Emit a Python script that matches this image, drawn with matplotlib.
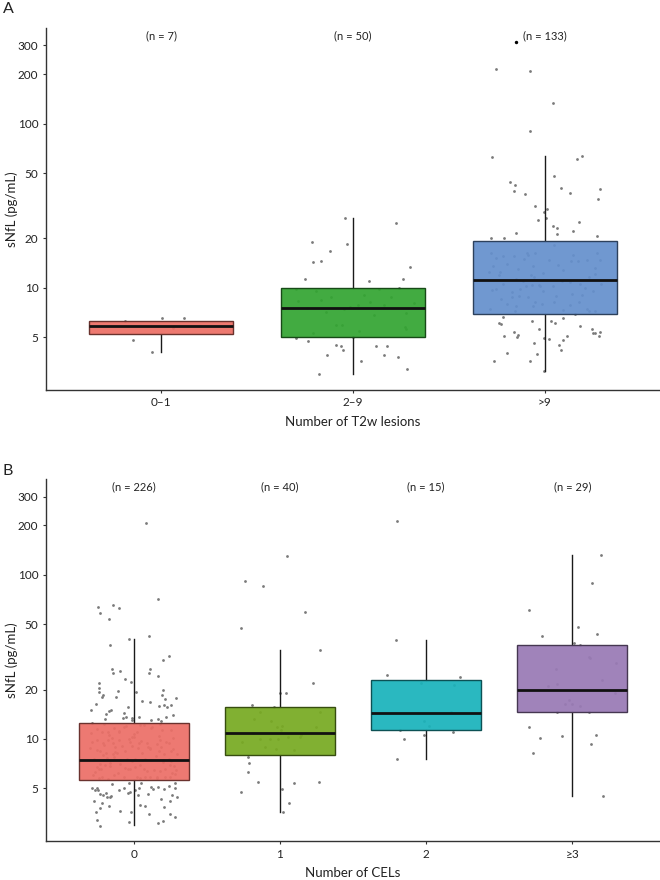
import matplotlib
matplotlib.use("Agg")
import matplotlib.pyplot as plt
import matplotlib.colors as mcolors

plt.rcParams['font.family'] = ['Lato', 'DejaVu Sans']

# ---------------- Panel A data ----------------
A_cats = ["0\u20131", "2\u20139", ">9"]
A_n = [7, 50, 133]
A_q1 = [5.22, 5.05, 6.97]
A_med = [5.89, 7.55, 11.1]
A_q3 = [6.32, 9.95, 19.3]
A_whislo = [4.09, 2.99, 3.13]
A_whishi = [6.32, 26.6, 63.5]
A_fill = ["#EC6F65", "#33A532", "#6590CD"]

# (value, jitter offset)
A_pts_g0 = [(4.80, -0.146), (4.09, -0.047), (6.32, -0.19), (6.53, 0.007), (5.68, 0.06),
            (6.59, 0.118), (5.89, 0.2)]
A_pts_g1 = [(26.8, -0.043), (24.7, 0.226), (19.0, -0.215), (18.5, -0.031), (16.8, -0.118),
            (14.4, -0.208), (14.6, -0.168), (13.3, 0.297), (11.3, -0.248), (11.0, 0.085),
            (11.3, 0.26), (9.8, -0.297), (9.9, 0.134), (10.0, 0.238),
            (9.5, -0.193), (8.33, -0.288), (8.77, -0.115), (9.06, 0.059), (8.25, 0.087),
            (7.55, -0.24), (7.41, -0.045), (7.6, -0.016), (7.88, 0.028), (7.88, 0.163),
            (7.17, -0.14), (6.81, 0.111), (7.07, 0.276), (5.95, -0.089), (5.95, -0.059),
            (5.81, 0.273), (5.6, 0.276), (5.3, -0.21), (5.42, 0.033), (8.45, -0.167),
            (8.85, 0.198), (5.05, 0.0), (8.06, 0.319),
            (4.95, -0.297), (4.77, -0.233), (4.49, -0.087), (4.39, -0.0625), (4.17, -0.052),
            (4.41, 0.118), (4.39, 0.179), (3.88, -0.134), (3.9, 0.163), (3.8, 0.233),
            (3.59, 0.042), (3.19, 0.281), (3.0, -0.179)]
A_pts_g2 = [(214, -0.253), (209, -0.078), (134, 0.042), (90, -0.08), (62.7, -0.274),
            (60.9, 0.17), (63.8, 0.193), (48.2, 0.045), (43.9, -0.184), (42.3, -0.155),
            (38.9, -0.16), (37.4, -0.102), (40.3, 0.085), (37.6, 0.13), (40.0, 0.288),
            (34.9, 0.276), (31.5, -0.05), (30.3, 0.009), (29.1, -0.007), (26.5, 0.007),
            (26.0, -0.036), (25.1, 0.179), (23.7, 0.043), (23.0, 0.061),
            (22.3, 0.144), (21.3, 0.061), (21.6, -0.148), (20.8, 0.271), (20.0, -0.281),
            (20.0, -0.214), (18.3, 0.047),
            (16.3, -0.28), (15.7, -0.219), (15.1, -0.253), (15.7, -0.161), (16.4, -0.094),
            (15.9, -0.087), (16.3, -0.049), (13.6, -0.0625), (13.7, 0.068), (15.9, 0.146),
            (14.5, 0.134), (14.5, 0.172), (14.8, 0.219), (14.8, 0.285), (12.5, -0.293),
            (13.5, -0.271), (12.5, -0.233), (11.95, -0.24), (13.0, -0.141), (11.95, -0.071),
            (11.6, -0.057), (13.2, 0.26), (12.1, 0.26), (11.6, 0.229), (11.3, -0.153),
            (11.0, 0.09), (10.8, 0.132), (10.6, 0.181), (10.6, 0.295), (9.72, -0.276),
            (9.9, -0.257), (9.37, -0.17), (9.9, -0.13), (10.2, -0.097), (10.4, -0.066),
            (10.4, -0.033), (10.2, -0.024), (9.63, -0.01), (9.19, 0.141), (9.02, 0.194),
            (10.0, 0.208), (8.57, -0.231), (8.73, -0.172), (8.94, -0.134), (8.77, -0.089),
            (8.14, -0.05), (7.99, -0.014), (8.14, 0.045), (7.84, 0.132), (7.77, -0.149),
            (7.27, -0.156), (7.43, -0.285), (7.48, 0.219), (7.25, 0.229), (7.22, 0.259),
            (6.91, 0.156),
            (14.0, -0.2), (14.8, 0.024), (12.8, 0.094), (12.3, -0.01), (11.0, -0.115),
            (10.2, 0.042), (9.5, 0.25), (10.5, -0.219), (8.9, 0.06), (8.2, 0.18),
            (7.7, -0.06), (7.3, 0.094), (8.0, -0.2), (16.2, 0.27), (14.9, -0.11),
            (6.68, -0.219), (6.12, -0.24), (6.0, -0.231), (6.29, -0.066), (6.29, 0.033),
            (6.08, 0.052), (6.56, 0.097), (5.86, 0.181), (5.58, -0.033), (5.37, -0.16),
            (5.17, -0.142), (5.04, -0.144), (5.06, -0.215), (5.6, 0.243), (5.29, 0.259),
            (5.28, 0.25), (5.39, 0.285), (5.07, 0.28), (4.98, -0.002), (4.89, 0.023),
            (5.07, 0.113), (4.8, 0.095), (4.6, -0.059), (4.47, 0.075), (4.17, 0.082),
            (4.03, -0.196), (3.96, -0.04), (3.57, -0.264), (3.57, -0.08), (3.13, -0.007)]
A_points = [A_pts_g0, A_pts_g1, A_pts_g2]
# black outlier point (group index, value, jitter)
A_outliers = [(2, 315, -0.153)]

# ---------------- Panel B data ----------------
B_cats = ["0", "1", "2", "\u22653"]
B_n = [226, 40, 15, 29]
B_q1 = [5.65, 8.0, 11.3, 14.6]
B_med = [7.48, 10.9, 14.5, 20.0]
B_q3 = [12.5, 15.7, 22.9, 37.3]
B_whislo = [2.99, 3.6, 7.55, 4.49]
B_whishi = [40.5, 34.9, 40.1, 132]
B_fill = ["#EC6F67", "#78AA22", "#1AB3BB", "#997AB5"]

B_pts_g0 = [(208, 0.087), (71.4, 0.165), (63.5, -0.247), (65.3, -0.144), (62.7, -0.103),
            (58.9, -0.229), (53.7, -0.169), (40.5, -0.034), (42.3, 0.105), (37.4, -0.163),
            (32.2, 0.24), (30.5, 0.199), (26.6, -0.151), (25.1, -0.142), (26.1, -0.092),
            (26.6, 0.11), (25.1, 0.105), (24.2, 0.163), (23.1, -0.062), (22.2, -0.021),
            (21.9, -0.236), (20.4, -0.236), (19.2, -0.24), (18.5, -0.213), (18.1, -0.215),
            (19.6, -0.108), (19.3, 0.016), (18.5, 0.195), (17.6, 0.215), (17.8, 0.288),
            (15.1, -0.295), (16.7, 0.108), (15.8, 0.172), (16.1, 0.206), (15.7, 0.229),
            (16.1, 0.252), (13.7, 0.224), (14.2, -0.19), (14.8, -0.172), (15.1, -0.156),
            (13.2, -0.197), (14.5, -0.069), (13.7, -0.053), (15.7, -0.039), (13.4, -0.073),
            (13.4, -0.009), (13.6, 0.034), (13.1, 0.121), (13.2, 0.165), (12.8, 0.188),
            (12.6, -0.286),
            (11.5, -0.252), (11.1, -0.179), (10.6, -0.167), (11.0, -0.217), (11.6, -0.133),
            (11.8, -0.069), (12.2, 0.041), (11.9, 0.126), (12.3, 0.183), (11.35, 0.195),
            (11.4, 0.252), (11.0, -0.103), (10.3, -0.011), (10.3, 0.005),
            (9.8, -0.252), (9.55, -0.282), (9.4, -0.211), (9.4, -0.144), (9.86, -0.179),
            (9.86, -0.103), (9.6, -0.027), (9.4, 0.034), (9.5, 0.092), (9.86, 0.183),
            (9.4, 0.24), (8.8, -0.298), (9.0, -0.126), (9.1, -0.011), (8.8, 0.114),
            (9.35, 0.156),
            (8.4, -0.229), (8.2, -0.188), (8.1, -0.142), (8.25, -0.114), (8.5, -0.057),
            (8.2, 0.057), (8.7, 0.108), (8.45, 0.172), (8.1, 0.206), (8.4, 0.256),
            (8.1, 0.293), (7.6, -0.275), (7.45, -0.206), (7.8, -0.137), (7.45, -0.092),
            (7.6, -0.046), (7.6, 0.011), (7.6, 0.08), (7.45, 0.121), (7.45, 0.199),
            (7.35, 0.252),
            (6.3, -0.263), (6.78, -0.252), (6.55, -0.224), (6.95, -0.195), (6.85, -0.16),
            (7.05, -0.092), (6.6, -0.041), (6.55, -0.027), (6.78, 0.011), (6.95, 0.046),
            (6.6, 0.073), (6.47, 0.137), (6.4, 0.183), (6.55, 0.217), (6.85, 0.275),
            (6.47, 0.288), (5.75, -0.24), (5.83, -0.217), (5.67, -0.179), (6.03, -0.137),
            (5.83, -0.069), (5.83, 0.023), (5.83, 0.08), (5.83, 0.114), (5.75, 0.16),
            (5.83, 0.217), (5.89, 0.247), (6.24, 0.263),
            (8.6, -0.25), (9.2, -0.2), (10.1, -0.15), (11.2, -0.1), (12.0, -0.05),
            (10.7, 0.0), (9.7, 0.05), (8.9, 0.1), (7.9, 0.15), (7.2, 0.2),
            (6.9, 0.25), (6.1, 0.28), (6.0, -0.28), (7.0, -0.23), (7.7, -0.18),
            (8.3, -0.13), (9.1, -0.08), (10.0, -0.03), (11.0, 0.02), (12.1, 0.07),
            (11.6, 0.12), (10.5, 0.17), (9.6, 0.22), (8.7, 0.27), (7.3, -0.01),
            (6.7, -0.06), (6.2, -0.11), (5.9, 0.16), (7.5, 0.06), (8.0, -0.21),
            (9.0, 0.19), (10.9, -0.29), (12.3, -0.2), (5.8, 0.04), (6.4, 0.09),
            (7.1, -0.16), (8.8, 0.03), (10.2, 0.27), (7.6, 0.24), (6.6, -0.24),
            (5.05, -0.282), (4.89, -0.263), (4.89, -0.243), (4.62, -0.234), (4.56, -0.213),
            (4.41, -0.183), (4.45, -0.165), (4.49, -0.153), (4.66, -0.188), (5.0, -0.252),
            (4.89, -0.103), (5.05, -0.069), (5.37, -0.034), (4.77, -0.023), (4.89, 0.007),
            (5.0, 0.034), (5.37, 0.053), (4.93, 0.133), (5.12, 0.165), (4.96, 0.206),
            (5.2, 0.24), (5.05, 0.279), (4.41, 0.293), (4.19, 0.247), (4.56, 0.263),
            (4.62, 0.096), (4.56, 0.03), (4.05, -0.217), (3.78, -0.229), (3.59, -0.256),
            (3.66, -0.092), (3.57, -0.018), (3.96, 0.046), (3.9, 0.08), (3.47, 0.103),
            (3.83, 0.206), (3.34, 0.279), (3.09, 0.167), (3.18, 0.201), (3.14, -0.034),
            (2.96, -0.234), (3.21, -0.252),
            (18.0, -0.12), (17.0, 0.06), (16.4, -0.26), (14.0, 0.27), (13.0, -0.01),
            (19.8, 0.2), (5.3, -0.15), (5.1, 0.12), (4.7, -0.04), (4.3, 0.19),
            (3.9, -0.17), (3.5, 0.25), (4.2, -0.27), (5.4, 0.28)]
B_pts_g1 = [(130, 0.046), (91.5, -0.24), (85.7, -0.117), (59.2, 0.172), (47.3, -0.263),
            (34.9, 0.275), (21.9, 0.229), (19.1, 0.043), (19.1, 0.002), (16.1, -0.192),
            (15.7, -0.037), (14.7, -0.137), (14.7, 0.272), (13.3, -0.179), (12.8, -0.062),
            (11.9, -0.018), (12.0, 0.014), (11.9, 0.245), (11.3, 0.009), (10.9, -0.183),
            (10.6, 0.142), (10.3, 0.14), (9.59, -0.256), (10.0, -0.133), (10.0, -0.069),
            (10.0, -0.011), (10.3, 0.053), (8.73, -0.03), (8.61, 0.098), (7.73, -0.22),
            (7.17, -0.21), (6.29, -0.22), (5.44, -0.153), (5.37, 0.098), (5.44, 0.268),
            (4.77, -0.263), (4.98, 0.014), (4.09, 0.062), (3.6, 0.021), (8.9, -0.105)]
B_pts_g2 = [(214, -0.2), (40.1, -0.206), (24.7, -0.266), (23.8, 0.234), (22.0, -0.034),
            (21.2, 0.19), (14.5, -0.055), (14.7, 0.169), (12.8, -0.014), (12.0, 0.018),
            (11.3, -0.176), (10.6, -0.016), (11.0, 0.181), (10.0, -0.149), (7.55, -0.197)]
B_pts_g3 = [(132, 0.195), (89.4, 0.137), (60.9, -0.298), (48.2, 0.041), (42.5, -0.204),
            (43.7, 0.172), (38.7, 0.009), (37.4, 0.05), (31.8, 0.112), (31.3, 0.121),
            (29.2, 0.3), (26.7, -0.108), (21.6, -0.105), (21.0, -0.169), (19.0, 0.291),
            (17.4, -0.021), (16.4, -0.048), (16.3, 0.0), (15.8, 0.05), (14.6, -0.103),
            (14.7, 0.117), (11.9, -0.293), (10.2, -0.22), (10.5, -0.069), (10.6, 0.16),
            (9.37, 0.126), (8.18, -0.27), (4.47, 0.213), (22.9, 0.206)]
B_points = [B_pts_g0, B_pts_g1, B_pts_g2, B_pts_g3]
B_outliers = []

Y_TICKS = [5, 10, 20, 50, 100, 200, 300]
Y_LIM = (2.39, 382)
N_LABEL_Y = 345


def darken(c, f=0.45):
    r, g, b = mcolors.to_rgb(c)
    return (r * f, g * f, b * f)


def panel(ax, cats, n, q1, med, q3, wlo, whi, fills, points, outliers, xlabel):
    ax.set_yscale('log')
    # jittered points (under the boxes)
    for i, pts in enumerate(points):
        xs = [i + j for v, j in pts]
        ys = [v for v, j in pts]
        ax.scatter(xs, ys, s=4, color="#7a7a7a", linewidths=0, zorder=1)
    stats = []
    for i in range(len(cats)):
        stats.append(dict(med=med[i], q1=q1[i], q3=q3[i], whislo=wlo[i], whishi=whi[i],
                          fliers=[], label=cats[i]))
    bp = ax.bxp(stats, positions=list(range(len(cats))), widths=0.75, patch_artist=True,
                showfliers=False, showcaps=False,
                whiskerprops=dict(color="#1a1a1a", linewidth=1.0),
                medianprops=dict(color="#111111", linewidth=2.0, solid_capstyle='butt'),
                manage_ticks=False, zorder=2)
    for patch, fc in zip(bp['boxes'], fills):
        patch.set_facecolor(mcolors.to_rgba(fc, 0.93))
        patch.set_edgecolor(darken(fc))
        patch.set_linewidth(1.0)
        patch.set_zorder(2)
    for w in bp['whiskers']:
        w.set_zorder(1.5)
    for m in bp['medians']:
        m.set_zorder(3)
    for g, v, j in outliers:
        ax.scatter([g + j], [v], s=6, color="black", linewidths=0, zorder=4)
    for i, nn in enumerate(n):
        ax.text(i, N_LABEL_Y, f"(n = {nn})", ha='center', va='center', fontsize=8,
                color="#222222")
    ax.set_xlim(-0.6, len(cats) - 0.4)
    ax.set_ylim(*Y_LIM)
    ax.set_yticks(Y_TICKS)
    ax.set_yticklabels([str(t) for t in Y_TICKS])
    ax.yaxis.set_minor_locator(matplotlib.ticker.NullLocator())
    ax.set_xticks(range(len(cats)))
    ax.set_xticklabels(cats)
    ax.tick_params(axis='both', labelsize=8.5, length=2.5, width=0.8, color="#333333",
                   labelcolor="#222222", pad=3)
    for s in ['top', 'right']:
        ax.spines[s].set_visible(False)
    for s in ['left', 'bottom']:
        ax.spines[s].set_color("#333333")
        ax.spines[s].set_linewidth(1.0)
    ax.set_ylabel("sNfL (pg/mL)", fontsize=9.5, color="#222222")
    ax.yaxis.set_label_coords(-0.045, 0.5)
    ax.set_xlabel(xlabel, fontsize=9.5, color="#222222")
    ax.xaxis.set_label_coords(0.5, -0.072)


fig = plt.figure(figsize=(6.6, 8.8), dpi=100)
axA = fig.add_axes([0.0697, 0.557, 0.9303, 0.411])
axB = fig.add_axes([0.0697, 0.0443, 0.9303, 0.411])

panel(axA, A_cats, A_n, A_q1, A_med, A_q3, A_whislo, A_whishi, A_fill, A_points,
      A_outliers, "Number of T2w lesions")
panel(axB, B_cats, B_n, B_q1, B_med, B_q3, B_whislo, B_whishi, B_fill, B_points,
      B_outliers, "Number of CELs")

fig.text(0.004, 0.990, "A", fontsize=11.5, ha='left', va='center', color="#222222")
fig.text(0.004, 0.4648, "B", fontsize=11.5, ha='left', va='center', color="#222222")

fig.savefig("out.png", dpi=100)
